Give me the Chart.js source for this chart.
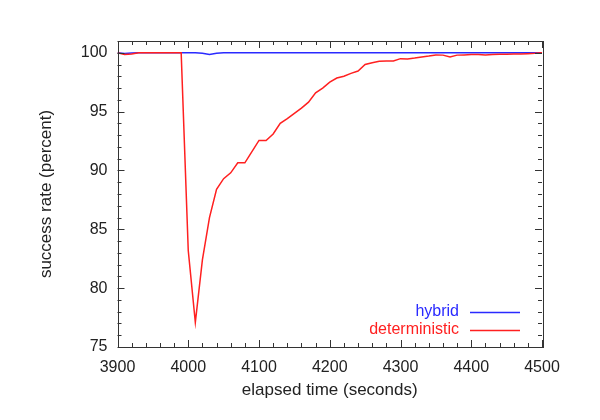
<!DOCTYPE html>
<html>
<head>
<meta charset="utf-8">
<script src="https://cdn.jsdelivr.net/npm/chart.js@4/dist/chart.umd.min.js"></script>
<style>
html,body{margin:0;padding:0;background:#fff;}
#wrap{width:600px;height:420px;}
</style>
</head>
<body>
<div id="wrap"><canvas id="c" width="600" height="420"></canvas></div>
<script>
const times = [3900,3910,3920,3930,3940,3950,3960,3970,3980,3990,
  4000,4010,4020,4030,4040,4050,4060,4070,4080,4090,
  4100,4110,4120,4130,4140,4150,4160,4170,4180,4190,
  4200,4210,4220,4230,4240,4250,4260,4270,4280,4290,
  4300,4310,4320,4330,4340,4350,4360,4370,4380,4390,
  4400,4410,4420,4430,4440,4450,4460,4470,4480,4490,4500];
const deterministic = [100,99.85,99.9,100,100,100,100,100,100,100,
  83.2,77.1,82.4,86.0,88.4,89.3,89.8,90.65,90.65,91.6,
  92.55,92.55,93.1,94.0,94.4,94.85,95.3,95.8,96.6,97.0,
  97.5,97.85,98.0,98.25,98.45,99.0,99.15,99.27,99.3,99.3,
  99.5,99.47,99.55,99.65,99.72,99.82,99.8,99.65,99.8,99.82,
  99.85,99.85,99.82,99.85,99.87,99.88,99.9,99.9,99.92,99.95,100];
const hybrid = [100,99.93,99.97,100,100,100,100,100,100,100,
  100,100,99.95,99.85,99.95,100,100,100,100,100,
  100,100,100,100,100,100,100,100,100,100,
  100,100,100,100,100,100,100,100,100,100,
  100,100,100,100,100,100,100,100,100,100,
  100,100,100,100,100,100,100,100,100,100,100];
const seriesNames = ['hybrid','deterministic'];
const seriesColors = ['#2a2aff','#ff2020'];
const xTitle = 'elapsed time (seconds)';
const yTitle = 'success rate (percent)';

const FONT = '"Liberation Sans", Arial, Helvetica, sans-serif';
const TXT = '#222';

function pts(vals){ return times.map((t,i)=>({x:t,y:vals[i]})); }

const frame = {
  id:'frame',
  afterDraw(chart){
    const {ctx, chartArea:a, scales:{x,y}} = chart;
    ctx.save();
    ctx.strokeStyle = '#333';
    ctx.lineWidth = 1;
    ctx.strokeRect(Math.round(a.left)+0.5, Math.round(a.top)+0.5, Math.round(a.right-a.left), Math.round(a.bottom-a.top));
    ctx.beginPath();
    for(let v=3900; v<=4500; v+=20){
      const px = Math.round(x.getPixelForValue(v))+0.5;
      const L = (v%100===0)?7:4;
      ctx.moveTo(px,a.bottom); ctx.lineTo(px,a.bottom-L);
      ctx.moveTo(px,a.top); ctx.lineTo(px,a.top+L);
    }
    for(let v=75; v<=101; v+=1){
      const py = Math.round(y.getPixelForValue(v))+0.5;
      const L = (v%5===0)?7:4;
      ctx.moveTo(a.left,py); ctx.lineTo(a.left+L,py);
      ctx.moveTo(a.right,py); ctx.lineTo(a.right-L,py);
    }
    ctx.stroke();
    // legend
    ctx.font = '16px '+FONT;
    ctx.textAlign = 'right';
    ctx.textBaseline = 'middle';
    const lx = a.right - 83, ly = a.bottom - 35;
    seriesNames.forEach((n,i)=>{
      const yy = ly + i*18;
      ctx.fillStyle = seriesColors[i];
      ctx.fillText(n, lx, yy);
      ctx.strokeStyle = seriesColors[i];
      ctx.lineWidth = 1.5;
      ctx.beginPath();
      ctx.moveTo(lx+11, yy+0.5); ctx.lineTo(lx+61, yy+0.5);
      ctx.stroke();
    });
    ctx.restore();
  }
};

new Chart(document.getElementById('c'), {
  type:'line',
  data:{
    datasets:[
      {label:seriesNames[1], data:pts(deterministic), borderColor:seriesColors[1], borderWidth:1.5, pointRadius:0, tension:0, fill:false},
      {label:seriesNames[0], data:pts(hybrid), borderColor:seriesColors[0], borderWidth:1.5, pointRadius:0, tension:0, fill:false}
    ]
  },
  options:{
    responsive:false,
    animation:false,
    events:[],
    layout:{padding:{left:0,right:58,top:41,bottom:0}},
    plugins:{legend:{display:false}, tooltip:{enabled:false}},
    scales:{
      x:{
        type:'linear', min:3900, max:4500,
        grid:{display:false, drawTicks:false},
        border:{display:false},
        ticks:{stepSize:100, color:TXT, font:{family:FONT,size:16}, padding:11, maxRotation:0, callback:(v)=>String(v)},
        title:{display:true, text:xTitle, color:TXT, font:{family:FONT,size:17}, padding:{top:4,bottom:19}},
        afterFit(s){ s.height = 73; }
      },
      y:{
        type:'linear', min:75, max:101,
        grid:{display:false, drawTicks:false},
        border:{display:false},
        ticks:{stepSize:5, includeBounds:false, color:TXT, font:{family:FONT,size:16}, padding:10, callback:(v)=>String(v)},
        title:{display:true, text:yTitle, color:TXT, font:{family:FONT,size:17}, padding:{top:36,bottom:10}},
        afterFit(s){ s.width = 117.5; }
      }
    }
  },
  plugins:[frame]
});
</script>
</body>
</html>
